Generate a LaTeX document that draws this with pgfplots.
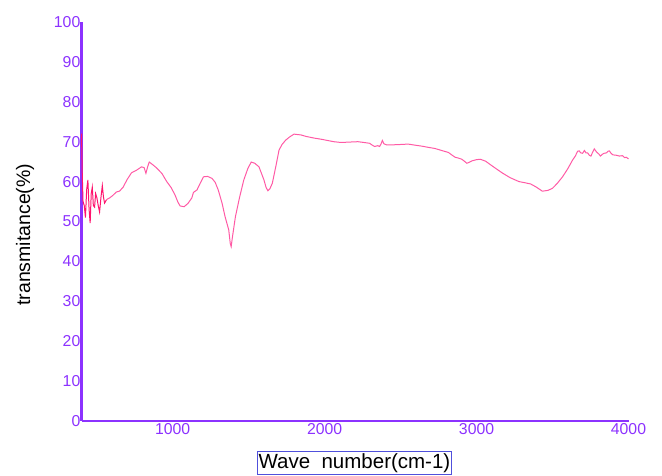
\documentclass[border=0pt]{standalone}
\usepackage{pgfplots}
\pgfplotsset{compat=1.18}
\usepackage{fontspec}
\setmainfont{Liberation Sans}
\definecolor{axviolet}{RGB}{140,50,255}
\definecolor{linepink}{RGB}{255,90,165}
\definecolor{linedeep}{RGB}{255,20,110}
\definecolor{boxblue}{RGB}{80,80,220}
\begin{document}
\begin{tikzpicture}
\useasboundingbox (0,0) rectangle (662pt,476pt);
\begin{axis}[
  at={(81.5pt,55pt)}, anchor=south west,
  scale only axis, width=547pt, height=399pt,
  xmin=400, xmax=4000, ymin=0, ymax=100,
  axis x line=bottom, axis y line=left,
  axis line style={-, draw=axviolet, line width=2.2pt},
  major tick length=0pt,
  xtick={1000,2000,3000,4000},
  ytick={0,10,...,100},
  /pgf/number format/assume math mode=true,
  /pgf/number format/set thousands separator={},
  tick label style={font=\fontsize{15.8}{17}\selectfont, text=axviolet},
  yticklabel style={anchor=east, inner sep=0pt, xshift=-1pt},
  xticklabel style={anchor=north, inner sep=0pt, yshift=-2pt},
  xlabel={Wave\ \ number(cm-1)},
  ylabel={transmitance(\%)},
  xlabel style={at={(axis description cs:0.499,-0.105)}, anchor=center,
    draw=boxblue, line width=0.7pt, inner xsep=1pt, inner ysep=1.5pt,
    font=\fontsize{20.5}{22}\selectfont, text=black},
  ylabel style={at={(axis description cs:-0.103,0.467)}, anchor=center,
    font=\fontsize{19.5}{21}\selectfont, text=black},
  clip=false,
]
\addplot[linedeep, line width=1pt] coordinates {
(400,72) (405,62) (410,55) (418,54) (426,51) (434,58) (442,60.4) (450,53)
(457,49.6) (464,57) (471,58.6) (478,54) (486,53.6) (493,57) (501,56) (510,54)
(519,52.4) (528,56) (537,59) (545,56) (552,54.6) (565,55.5)
};
\addplot[linepink, line width=1pt] coordinates {
(565,55.5) (585,55.9) (605,56.5) (630,57.4) (650,57.6) (674,58.6) (700,60.5)
(729,62.2) (760,62.8) (795,63.7) (812,63.5) (824,62.1) (836,63.8) (846,64.9)
(870,64.2) (895,63.4) (930,62) (961,60) (990,58.5) (1016,56.6) (1035,54.8)
(1049,53.9) (1075,53.7) (1100,54.5) (1126,55.9) (1137,57.3) (1160,57.9)
(1180,59.5) (1203,61.2) (1230,61.3) (1259,60.8) (1280,59.8) (1300,57.9)
(1325,54.6) (1345,51.2) (1369,47.9) (1379,44.5) (1385,43.7) (1393,46)
(1413,51.2) (1440,56) (1468,60.4) (1495,63.3) (1517,64.9) (1540,64.6)
(1568,63.7) (1585,62) (1601,60.4) (1615,58.5) (1627,57.7) (1640,58.2)
(1656,59.6) (1680,64) (1700,67.9) (1720,69.3) (1744,70.4) (1770,71.2)
(1799,71.9) (1820,71.8) (1844,71.7) (1880,71.3) (1932,70.9) (1980,70.6)
(2020,70.3) (2060,70) (2109,69.8) (2160,69.9) (2219,70) (2260,69.8)
(2296,69.6) (2315,69.1) (2329,68.8) (2350,69) (2362,68.8) (2372,69.5)
(2380,70.3) (2390,69.5) (2407,69.2) (2440,69.2) (2500,69.3) (2550,69.4)
(2600,69.1) (2638,68.9) (2680,68.6) (2726,68.3) (2770,67.8) (2815,67.3)
(2840,66.6) (2859,66.1) (2880,65.9) (2903,65.6) (2920,65.1) (2936,64.6)
(2950,64.8) (2970,65.2) (3000,65.5) (3025,65.6) (3060,65.1) (3100,64)
(3130,63.2) (3168,62.2) (3220,61) (3279,60) (3320,59.7) (3356,59.4)
(3390,58.7) (3433,57.6) (3470,57.8) (3499,58.3) (3530,59.5) (3566,61.2)
(3600,63.2) (3632,65.4) (3650,66.4) (3665,67.6) (3676,67.7) (3685,67.2)
(3698,67.1) (3710,67.8) (3720,67.2) (3731,67.2) (3742,66.6) (3753,66.4)
(3763,67.3) (3775,68.2) (3790,67.4) (3805,66.9) (3815,66.4) (3830,66.9)
(3841,67.1) (3855,67.2) (3865,67.6) (3874,67.7) (3885,67.1) (3897,66.7)
(3920,66.6) (3941,66.4) (3960,66.5) (3975,66) (3985,66.1) (4000,65.7)
};
\end{axis}
\end{tikzpicture}
\end{document}
